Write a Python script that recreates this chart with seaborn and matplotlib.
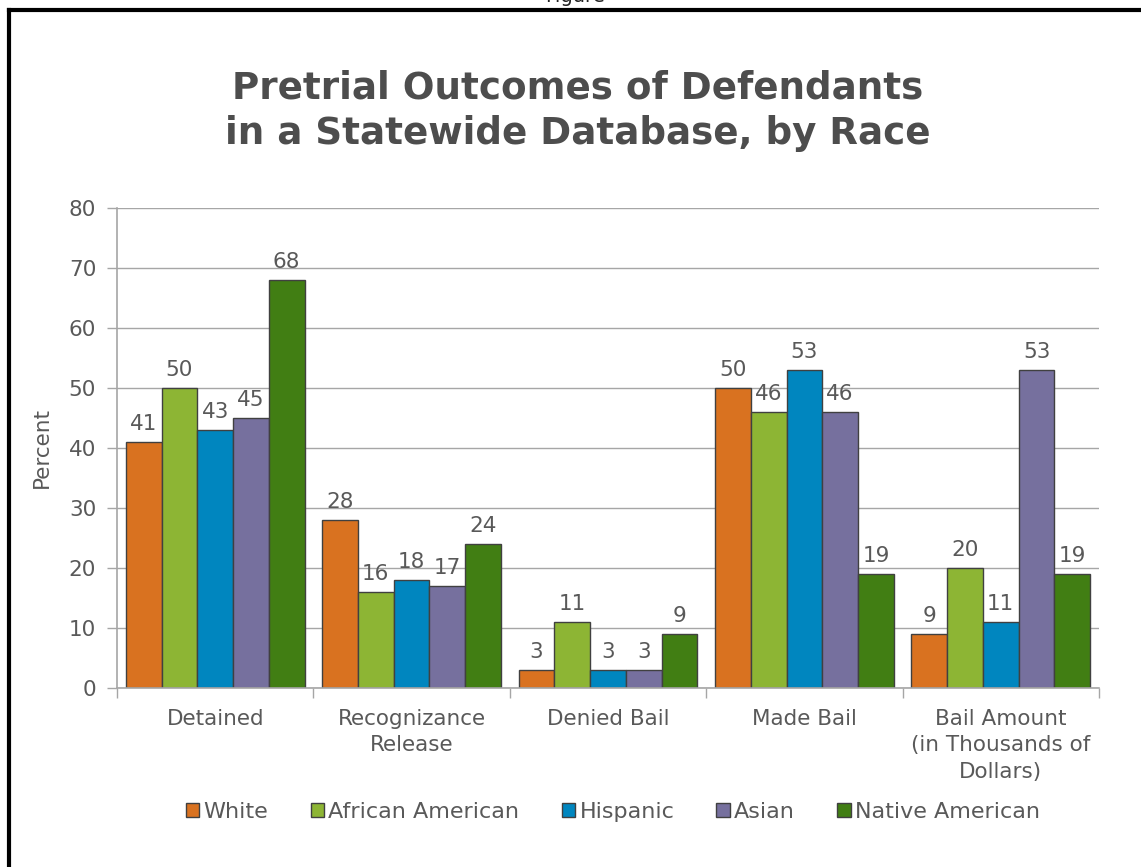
import matplotlib
matplotlib.use("Agg")
import matplotlib.pyplot as plt
from matplotlib.lines import Line2D
import seaborn as sns
import pandas as pd

categories = ["Detained", "Recognizance\nRelease", "Denied Bail", "Made Bail",
              "Bail Amount\n(in Thousands of\nDollars)"]
races = ["White", "African American", "Hispanic", "Asian", "Native American"]
white = [41, 28, 3, 50, 9]
african_american = [50, 16, 11, 46, 20]
hispanic = [43, 18, 3, 53, 11]
asian = [45, 17, 3, 46, 53]
native_american = [68, 24, 9, 19, 19]
colors = ["#D97220", "#8DB534", "#0086BF", "#76709E", "#417E13"]

series = [white, african_american, hispanic, asian, native_american]
rows = []
for race, vals in zip(races, series):
    for cat, v in zip(categories, vals):
        rows.append({"Outcome": cat, "Race": race, "Percent": v})
df = pd.DataFrame(rows)

sns.set_theme(style="white")
plt.rcParams["font.family"] = ["DejaVu Sans"]
text_color = "#595959"
grid_color = "#A6A6A6"
fs = 15.5

fig = plt.figure(figsize=(11.41, 8.67), dpi=100)
ax = fig.add_axes([117 / 1141, 1 - 688 / 867, (1099 - 117) / 1141, (688 - 208) / 867])

sns.barplot(data=df, x="Outcome", y="Percent", hue="Race", order=categories,
            hue_order=races, palette=colors, width=0.91, saturation=1,
            edgecolor="#404040", linewidth=1.0, ax=ax, legend=True, errorbar=None)

for cont in ax.containers:
    ax.bar_label(cont, fmt="%d", padding=6, fontsize=fs, color=text_color)

ax.set_ylim(0, 80)
ax.set_xlim(-0.5, len(categories) - 0.5)
ax.set_yticks(range(0, 81, 10))
ax.yaxis.grid(True, color=grid_color, linewidth=1)
ax.set_axisbelow(True)
for side in ["top", "right"]:
    ax.spines[side].set_visible(False)
for side in ["left", "bottom"]:
    ax.spines[side].set_color(grid_color)
    ax.spines[side].set_linewidth(1.2)

ax.tick_params(axis="y", which="major", left=True, direction="out", length=7, width=1,
               color=grid_color, labelsize=fs, labelcolor=text_color, pad=8)
ax.tick_params(axis="x", which="major", bottom=True, length=0, labelsize=fs,
               labelcolor=text_color, pad=15)
ax.set_xticks([i - 0.5 for i in range(len(categories) + 1)], minor=True)
ax.tick_params(axis="x", which="minor", bottom=True, direction="out", length=7,
               width=1, color=grid_color)
for lbl in ax.get_xticklabels():
    lbl.set_linespacing(1.4)
    lbl.set_multialignment("center")

ax.set_xlabel("")
ax.set_ylabel("Percent", fontsize=fs, color=text_color, labelpad=12)

handles, labels = ax.get_legend_handles_labels()
ax.legend(handles, labels, loc="center", bbox_to_anchor=(613 / 1141, (867 - 812) / 867),
          bbox_transform=fig.transFigure, ncol=5, frameon=False, fontsize=16,
          labelcolor=text_color, handlelength=0.6, handleheight=0.6,
          handletextpad=0.2, columnspacing=1.9)
for h in ax.get_legend().legend_handles:
    h.set_edgecolor("#404040")

fig.text(578 / 1141, 1 - 111 / 867, "Pretrial Outcomes of Defendants\nin a Statewide Database, by Race",
         ha="center", va="center", fontsize=26.8, fontweight="bold", color="#4D4D4D",
         linespacing=1.3)

fig.text(575 / 1141, 1 - 2 / 867, "Figure", ha="center", va="baseline", fontsize=14,
         color="#222222")

# Frame lines along the left and top edges
fig.add_artist(Line2D([9 / 1141, 9 / 1141], [0, 1 - 10 / 867], color="black",
                      linewidth=3, transform=fig.transFigure, solid_capstyle="projecting"))
fig.add_artist(Line2D([9 / 1141, 1], [1 - 10 / 867, 1 - 10 / 867], color="black",
                      linewidth=3, transform=fig.transFigure, solid_capstyle="projecting"))

fig.savefig("out.png", dpi=100, facecolor="white")
